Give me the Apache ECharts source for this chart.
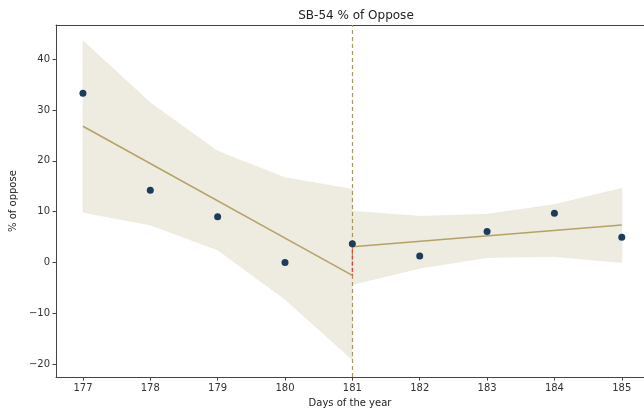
<!DOCTYPE html>
<html>
<head>
<meta charset="utf-8">
<title>SB-54 % of Oppose</title>
<script src="https://cdn.jsdelivr.net/npm/echarts@6/dist/echarts.min.js"></script>
<style>
	html, body { margin: 0; padding: 0; background: #fff; }
	#chart { width: 644px; height: 413px; }
</style>
</head>
<body>
<div id="chart"></div>
<script>
	// observed points
	var days = [177, 178, 179, 180, 181, 182, 183, 184, 185];
	var oppose = [33.3, 14.2, 9.0, 0.0, 3.7, 1.3, 6.1, 9.7, 5.0];

	// before cutoff: fit + confidence band
	var preDays = [177, 178, 179, 180, 181];
	var preUpper = [43.6, 31.4, 21.9, 16.7, 14.4];
	var preLower = [9.9, 7.4, 2.5, -7.2, -19.1];
	var preFit = [26.8, -2.5];

	// after cutoff
	var postDays = [181, 182, 183, 184, 185];
	var postUpper = [10.1, 9.1, 9.5, 11.4, 14.6];
	var postLower = [-4.3, -1.1, 1.0, 1.2, 0.0];
	var postFit = [3.1, 7.4];

	var cutoff = 181;
	var xTicks = [177, 178, 179, 180, 181, 182, 183, 184, 185];
	var yTicks = [-20, -10, 0, 10, 20, 30, 40];

	var font = 'DejaVu Sans';
	var bandColor = '#eeebe1';
	var fitColor = '#b5a263';

	function band(xs, up, lo) {
		return {
			type: 'custom',
			z: 1,
			silent: true,
			data: [0],
			renderItem: function (params, api) {
				var pts = [];
				for (var i = 0; i < xs.length; i++) pts.push(api.coord([xs[i], up[i]]));
				for (var j = xs.length - 1; j >= 0; j--) pts.push(api.coord([xs[j], lo[j]]));
				return {
					type: 'polygon',
					shape: { points: pts },
					style: { fill: bandColor, stroke: '#e9e4d4', lineWidth: 0.5 }
				};
			}
		};
	}

	function fitLine(xs, ys) {
		return {
			type: 'line',
			z: 3,
			symbol: 'none',
			silent: true,
			lineStyle: { color: fitColor, width: 1.5 },
			data: [[xs[0], ys[0]], [xs[xs.length - 1], ys[1]]]
		};
	}

	var chart = echarts.init(document.getElementById('chart'));
	chart.setOption({
		animation: false,
		title: {
			text: 'SB-54 % of Oppose',
			left: 351,
			top: 5,
			textAlign: 'center',
			textStyle: { fontFamily: font, fontSize: 12, fontWeight: 'normal', color: '#222' }
		},
		grid: { left: 55, right: 0, top: 25, bottom: 35 },
		xAxis: [{
			type: 'value',
			min: 176.6,
			max: 185.33,
			name: 'Days of the year',
			nameLocation: 'middle',
			nameGap: 20,
			nameTextStyle: { fontFamily: font, fontSize: 10, color: '#222' },
			splitLine: { show: false },
			axisLine: { onZero: false, lineStyle: { color: '#444' } },
			axisTick: { customValues: xTicks, length: 3.5, lineStyle: { color: '#444' } },
			axisLabel: { customValues: xTicks, fontFamily: font, fontSize: 10, color: '#333', margin: 6 }
		}, {
			type: 'value',
			position: 'top',
			min: 176.6,
			max: 185.33,
			axisLine: { show: true, onZero: false, lineStyle: { color: '#444' } },
			axisTick: { show: false },
			axisLabel: { show: false },
			splitLine: { show: false }
		}],
		yAxis: {
			type: 'value',
			min: -22.5,
			max: 46.7,
			name: '% of oppose',
			nameLocation: 'middle',
			nameGap: 36,
			nameTextStyle: { fontFamily: font, fontSize: 10, color: '#222' },
			splitLine: { show: false },
			axisLine: { show: true, onZero: false, lineStyle: { color: '#444' } },
			axisTick: { show: true, customValues: yTicks, length: 3.5, lineStyle: { color: '#444' } },
			axisLabel: { customValues: yTicks, fontFamily: font, fontSize: 10, color: '#333', margin: 6,
				formatter: function (v) { return v < 0 ? '\u2212' + Math.abs(v) : String(v); } }
		},
		series: [
			band(preDays, preUpper, preLower),
			band(postDays, postUpper, postLower),
			fitLine(preDays, preFit),
			fitLine(postDays, postFit),
			{
				type: 'line',
				z: 2,
				symbol: 'none',
				silent: true,
				data: [],
				markLine: {
					silent: true,
					symbol: 'none',
					z: 2,
					label: { show: false },
					lineStyle: { color: '#a8975c', width: 1.2, type: [4, 3] },
					data: [{ xAxis: cutoff }]
				}
			},
			{
				// residual at cutoff
				type: 'line',
				z: 8,
				symbol: 'none',
				silent: true,
				lineStyle: { color: '#e0483c', width: 1.3, type: [4, 2] },
				data: [[cutoff, oppose[days.indexOf(cutoff)]], [cutoff, preFit[1]]]
			},
			{
				type: 'scatter',
				z: 9,
				symbolSize: 7,
				itemStyle: { color: '#1b3d5a', opacity: 1 },
				data: days.map(function (d, i) { return [d, oppose[i]]; })
			}
		]
	});
</script>
</body>
</html>
